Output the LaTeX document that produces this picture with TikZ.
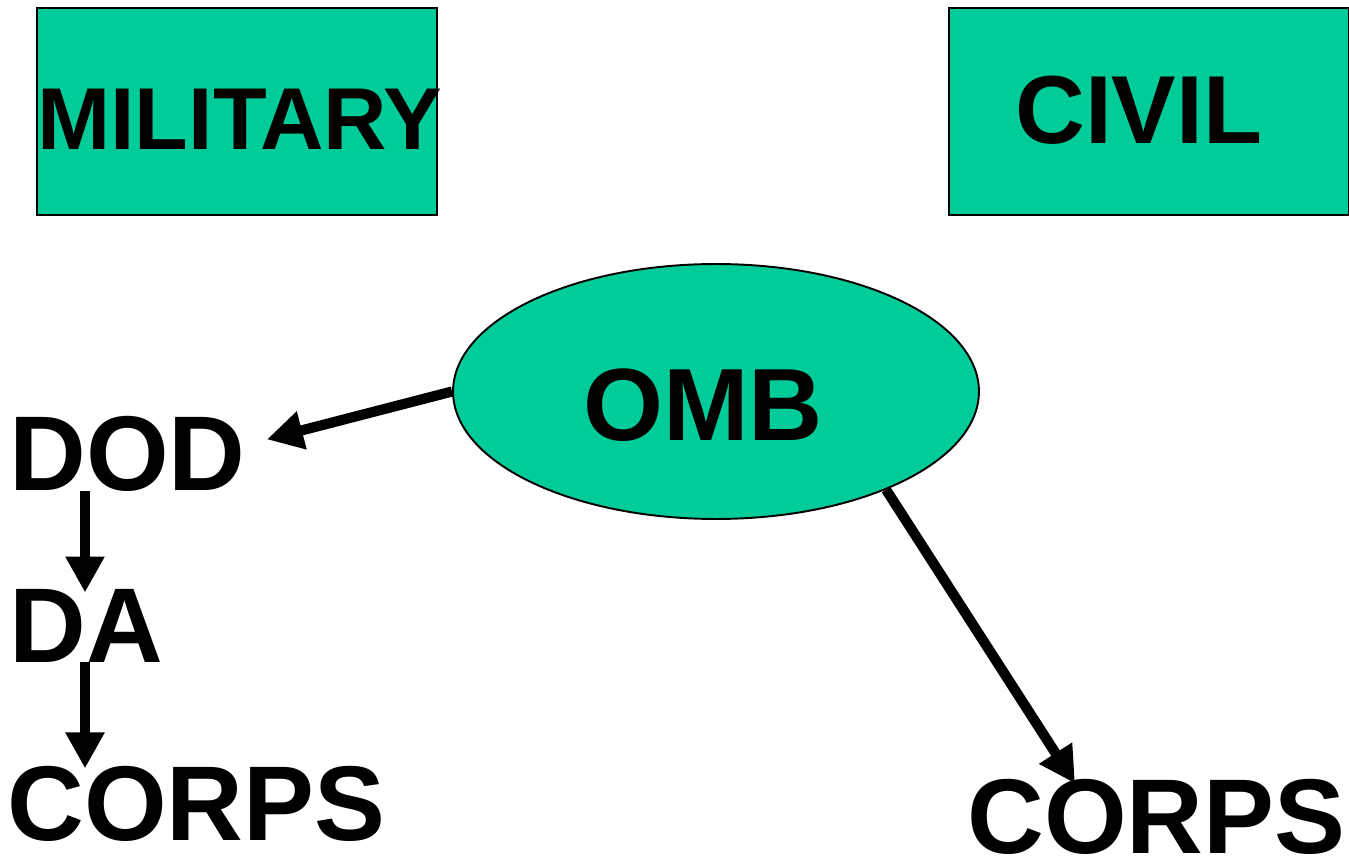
\documentclass[tikz,border=0pt]{standalone}
\usepackage{fontspec}
\setmainfont{Liberation Sans}
\usetikzlibrary{positioning,shapes.geometric,arrows.meta}
\definecolor{boxgreen}{HTML}{00CC99}

\begin{document}
\begin{tikzpicture}[x=0.02cm,y=-0.02cm,
  greenbox/.style={shape=rectangle,draw=black,fill=boxgreen,line width=1.1pt,inner sep=0pt,minimum width=8cm,minimum height=4.14cm},
  bigtext/.style={inner sep=0pt,anchor=base west,font=\fontsize{60.5}{61}\selectfont\bfseries},
  arr/.style={-{Triangle[length=20.5pt,width=21pt]},line width=5.8pt}]
  \useasboundingbox (0,0) rectangle (1349,861);
  % top boxes
  \node[greenbox] (milbox) at (237,111.5) {};
  \node[greenbox] (civbox) at (1148.5,111.5) {};
  \node[bigtext,font=\fontsize{50}{50}\selectfont\bfseries] (military) at (37,150) {MILITARY};
  \node[bigtext,font=\fontsize{55}{56}\selectfont\bfseries] (civil) at (1015,144) {CIVIL};
  % the ellipse
  \node[shape=ellipse,draw=black,fill=boxgreen,line width=1.1pt,inner sep=0pt,minimum width=10.52cm,minimum height=5.1cm] (omb) at (716,391.5) {};
  \node[bigtext,font=\fontsize{58.5}{59}\selectfont\bfseries] (omblabel) at (583,440) {OMB};
  % military side
  \node[bigtext] (dod) at (9,490) {DOD};
  \node[bigtext] (da) at (9,662) {DA};
  \node[bigtext] (corpsl) at (7,840) {CORPS};
  % civil side
  \node[bigtext] (corpsr) at (967,853) {CORPS};
  \path [arr](omb.west) edge ([shift={(21,-14)}]dod.east);
  \path [arr]([shift={(76,0)}]dod.south west) edge ([shift={(76,4)}]da.north west);
  \path [arr]([shift={(76,0)}]da.south west) edge ([shift={(78,3)}]corpsl.north west);
  \path [arr](omb.-30) edge ([shift={(108,5)}]corpsr.north west);
\end{tikzpicture}
\end{document}
